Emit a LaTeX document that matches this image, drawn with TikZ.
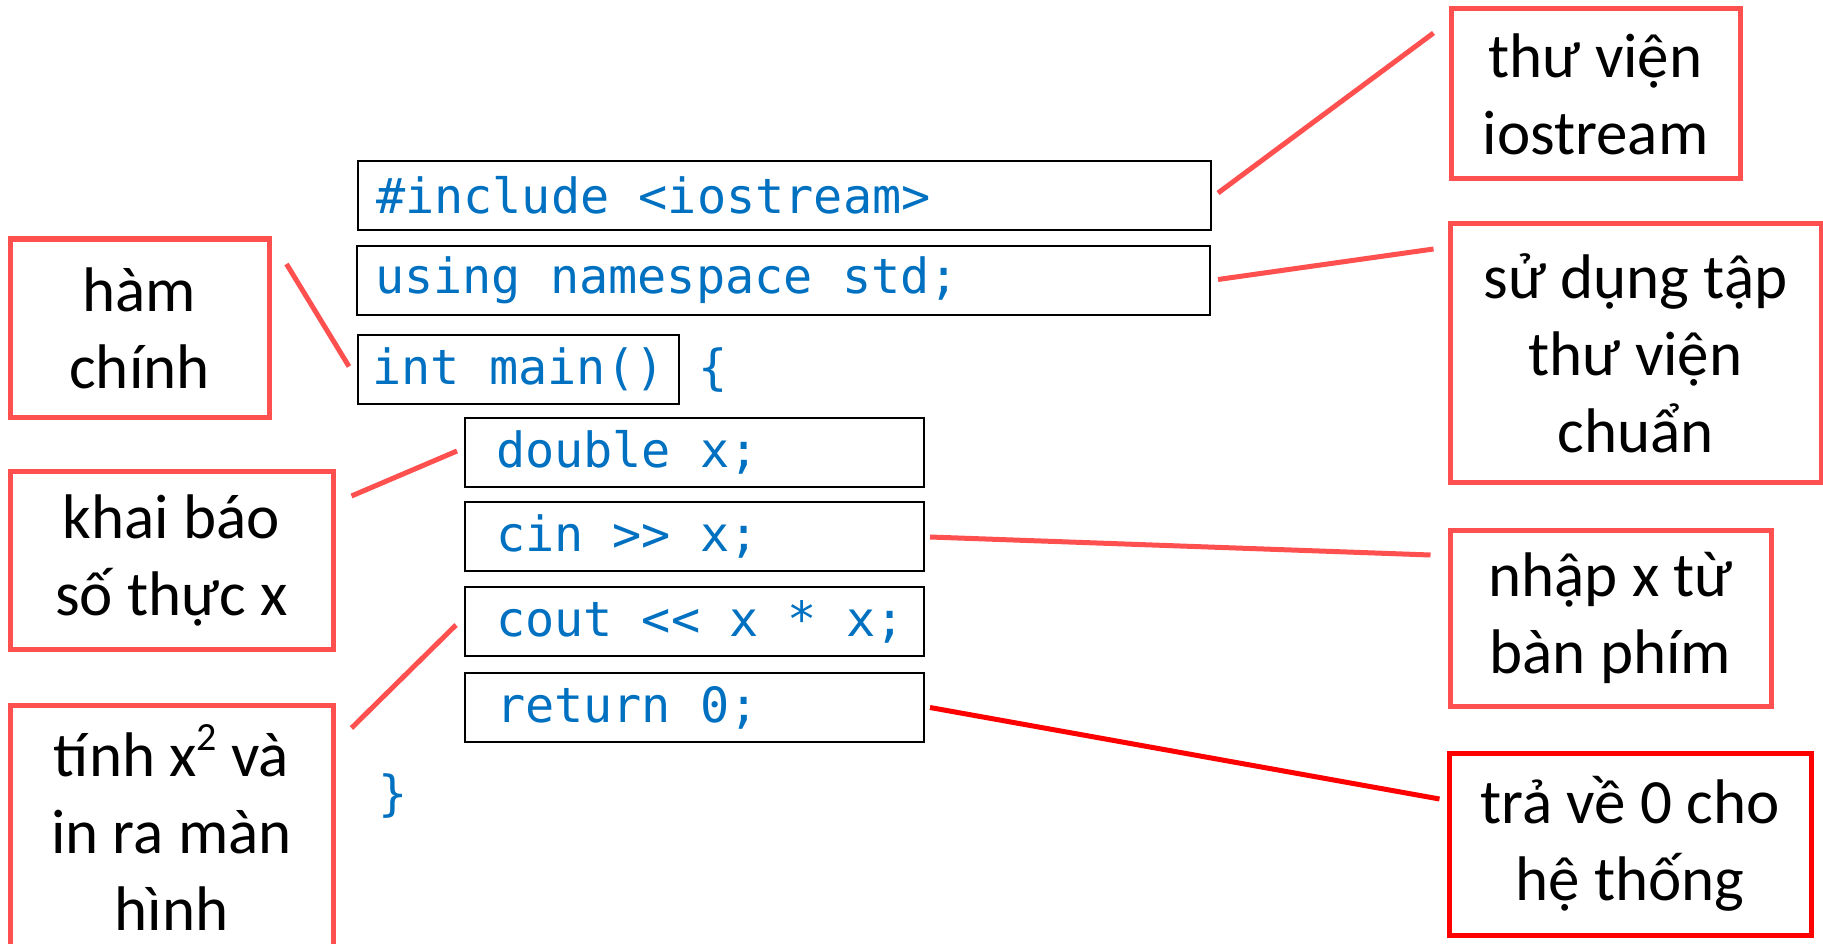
\documentclass[tikz,border=0pt]{standalone}
\usepackage{fontspec}
\setmainfont{Carlito}
\newfontfamily\codefont{DejaVu Sans Mono}
\usetikzlibrary{calc}
\definecolor{coral}{HTML}{FF5050}
\definecolor{codeblue}{HTML}{0070C0}
\definecolor{purered}{HTML}{FF0000}
\newcommand\mycodeline[2]{\makebox[#1][l]{#2}}
\tikzset{
 codebox/.style={draw=black, line width=2pt, anchor=north west, inner ysep=0pt, minimum height=69pt, font=\codefont\fontsize{48.5}{58}\selectfont, text=codeblue},
 outerline/.style={codebox, inner xsep=18pt},
 innerline/.style={codebox, inner xsep=31pt},
 codetext/.style={font=\codefont\fontsize{48.5}{58}\selectfont, text=codeblue, inner sep=0pt},
 labelbox/.style={draw=coral, line width=5pt, align=center, font=\fontsize{63}{77}\selectfont, inner sep=0pt},
 conn/.style={draw=coral, line width=5pt},
}
\begin{document}
\begin{tikzpicture}[x=1pt,y=-1pt]
\useasboundingbox (0,0) rectangle (1823,944);
% code lines
\node[outerline] (inc) at (357,160) {\mycodeline{817pt}{\#include <iostream>}};
\node[outerline] (using) at (356,245) {\mycodeline{817pt}{using namespace std;}};
\node[codebox, inner xsep=0pt, minimum width=321pt] (main) at (357,334) {int main()};
\node[codetext] (lbrace) at (713,370) {\{};
\node[innerline] (dbl) at (464,417) {\mycodeline{397pt}{double x;}};
\node[innerline] (cin) at (464,501) {\mycodeline{397pt}{cin >> x;}};
\node[innerline] (cout) at (464,586) {\mycodeline{397pt}{cout << x * x;}};
\node[innerline] (ret) at (464,672) {\mycodeline{397pt}{return 0;}};
\node[codetext] (rbrace) at (393,796) {\}};
% labels
\node[labelbox, minimum width=289pt, minimum height=170pt] (lib) at (1595.5,94) {thư viện\\iostream};
\node[labelbox, minimum width=371pt, minimum height=258pt] (std) at (1635.5,353) {sử dụng tập\\thư viện\\chuẩn};
\node[labelbox, minimum width=321pt, minimum height=176pt] (inp) at (1610.5,618) {nhập x từ\\bàn phím};
\node[labelbox, draw=purered, minimum width=362pt, minimum height=182pt] (retl) at (1630,844) {trả về 0 cho\\hệ thống};
\node[labelbox, minimum width=259pt, minimum height=178pt] (ham) at (139.5,328) {hàm\\chính};
\node[labelbox, minimum width=323pt, minimum height=178pt] (khai) at (171.5,560) {khai báo\\số thực x};
\node[labelbox, minimum width=323pt, minimum height=245pt] (tinh) at (171.5,827.5) {tính x\raisebox{0.42em}{\fontsize{40}{40}\selectfont 2} và\\in ra màn\\hình};
% connectors
\draw[conn] ($(inc.east)+(6,-2.5)$) -- ($(lib.west)+(-15,-61)$);
\draw[conn] ($(using.east)+(7,-1)$) -- ($(std.west)+(-14,-104)$);
\draw[conn] ($(ham.east)+(15,-64)$) -- ($(main.west)+(-8,-3)$);
\draw[conn] ($(khai.east)+(16,-64)$) -- ($(dbl.west)+(-7,-1.5)$);
\draw[conn] ($(cin.east)+(5,0.5)$) -- ($(inp.west)+(-17,-63)$);
\draw[conn] ($(tinh.east)+(16,-99.5)$) -- ($(cout.west)+(-8,3.5)$);
\draw[conn, draw=purered] ($(ret.east)+(5,0)$) -- ($(retl.west)+(-7,-45)$);
\end{tikzpicture}
\end{document}
